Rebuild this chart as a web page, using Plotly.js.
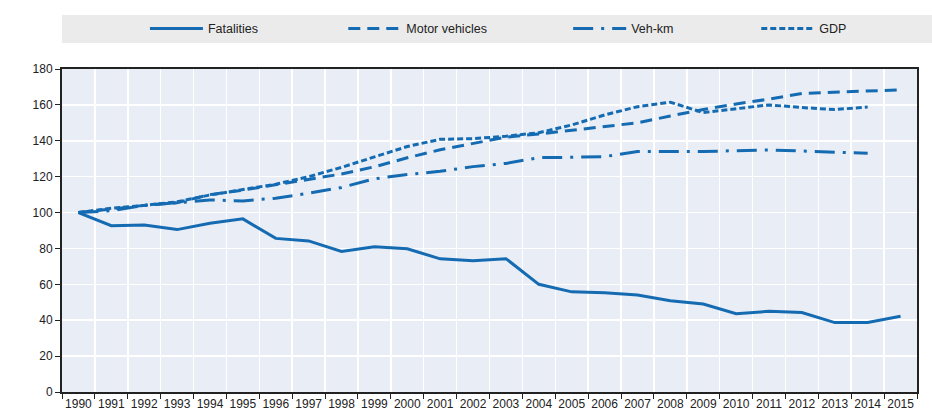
<!DOCTYPE html>
<html>
<head>
<meta charset="utf-8">
<script src="https://cdn.plot.ly/plotly-3.0.1.min.js"></script>
<style>
  html, body { margin: 0; padding: 0; background: #fff; }
  #chart { width: 932px; height: 417px; }
</style>
</head>
<body>
<div id="chart"></div>
<script>
var years = ["1990", "1991", "1992", "1993", "1994", "1995", "1996", "1997", "1998", "1999", "2000", "2001", "2002",
             "2003", "2004", "2005", "2006", "2007", "2008", "2009", "2010", "2011", "2012", "2013", "2014", "2015"];
var fatalities = [100, 92.7, 93, 90.5, 94, 96.5, 85.6, 84.2, 78.3, 81, 79.8, 74.2, 73.2,
                  74.3, 60, 55.8, 55.3, 54, 50.8, 49, 43.6, 45, 44.3, 38.7, 38.7, 42.2];
var motorVehicles = [100, 102, 104, 105.5, 110, 112.5, 115.5, 118.5, 121.5, 125.5, 130.5, 135, 138.6,
                     142, 143.8, 145.8, 148, 150, 153.8, 157.4, 160.5, 163.2, 166.4, 167.2, 167.6, 168.4];
var vehKm = [100, 101, 104, 105.5, 107, 106.5, 108, 110.8, 114, 118.8, 121.2, 123, 125.6,
             127.4, 130.6, 130.8, 131.2, 134, 134, 134, 134.5, 134.9, 134.3, 133.6, 133];
var gdp = [100, 102.4, 104, 106, 109.8, 113, 115.8, 120, 125.2, 131, 136.8, 140.8, 141.2,
           142.5, 144.5, 148.8, 154.4, 159, 161.5, 155.7, 157.8, 160, 158.5, 157.4, 158.8];
var yTicks = [0, 20, 40, 60, 80, 100, 120, 140, 160, 180];

var blue = "#156bb2";
var font = "Liberation Sans, Arial, sans-serif";

function series(name, vals, dash, legendId) {
  return {
    x: years.slice(0, vals.length),
    y: vals,
    name: name,
    type: "scatter",
    mode: "lines",
    line: { color: blue, width: 3, dash: dash },
    legend: legendId
  };
}

var traces = [
  series("Fatalities", fatalities, "solid", "legend"),
  series("Motor vehicles", motorVehicles, "12px,7px", "legend2"),
  series("Veh-km", vehKm, "20px,8px,3px,8px", "legend3"),
  series("GDP", gdp, "6px,3px", "legend4")
];

// one legend per series so each entry sits where the reference has it
function leg(x) {
  return {
    x: x, y: 1.124, xanchor: "left", yanchor: "middle",
    orientation: "h", bgcolor: "rgba(0,0,0,0)", borderwidth: 0,
    itemwidth: 53, font: { family: font, size: 12.5, color: "#222" }
  };
}

var layout = {
  width: 932,
  height: 417,
  margin: { l: 62, r: 15, t: 69, b: 25 },
  paper_bgcolor: "#ffffff",
  plot_bgcolor: "#e9edf5",
  showlegend: true,
  legend: leg(0.097),
  legend2: leg(0.329),
  legend3: leg(0.592),
  legend4: leg(0.812),
  xaxis: {
    type: "category",
    range: [-0.5, 25.5],
    tickson: "boundaries",
    tickangle: 0,
    ticks: "outside",
    ticklen: 5,
    tickcolor: "#222",
    showgrid: true,
    gridcolor: "#ffffff",
    gridwidth: 1.5,
    showline: true,
    linecolor: "#222",
    linewidth: 2,
    mirror: true,
    tickfont: { family: font, size: 12, color: "#222" },
    fixedrange: true
  },
  yaxis: {
    range: [0, 180],
    tickvals: yTicks,
    ticks: "outside",
    ticklen: 5,
    tickcolor: "#222",
    showgrid: true,
    gridcolor: "#ffffff",
    gridwidth: 1.5,
    zeroline: false,
    showline: true,
    linecolor: "#222",
    linewidth: 2,
    mirror: true,
    tickfont: { family: font, size: 12, color: "#222" },
    fixedrange: true
  },
  shapes: [{
    type: "rect", xref: "paper", yref: "paper",
    x0: 0, x1: 1.0175, y0: 1.0805, y1: 1.167,
    fillcolor: "#ebebeb", line: { width: 0 }, layer: "below"
  }]
};

Plotly.newPlot("chart", traces, layout, { displayModeBar: false, staticPlot: true });
</script>
</body>
</html>
